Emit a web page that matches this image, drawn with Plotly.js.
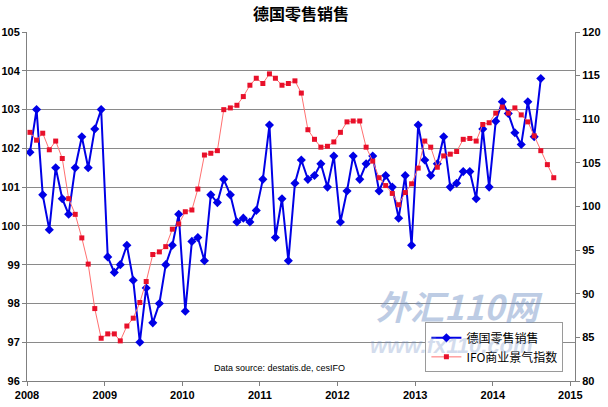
<!DOCTYPE html>
<html>
<head>
<meta charset="utf-8">
<script src="https://cdn.plot.ly/plotly-3.0.1.min.js"></script>
<style>html,body{margin:0;padding:0;background:#fff}#chart{width:608px;height:407px}</style>
</head>
<body>
<div id="chart"></div>
<script>
// Monthly series, starting January 2008 (points sit mid-month)
var startYear = 2008;
var retailSales = [101.9,103.0,100.8,99.9,101.5,100.7,100.3,101.5,102.3,101.5,102.5,103.0,
  99.2,98.8,99.0,99.5,98.6,97.0,98.4,97.5,98.0,99.0,99.5,100.3,
  97.8,99.6,99.7,99.1,100.8,100.6,101.2,100.8,100.1,100.2,100.1,100.4,
  101.2,102.6,99.7,100.7,99.1,101.1,101.7,101.2,101.3,101.6,101.0,101.8,
  100.1,100.9,101.8,101.2,101.6,101.8,100.9,101.3,101.0,100.2,101.3,99.5,
  102.6,101.7,101.3,101.6,102.3,101.0,101.1,101.4,101.4,100.7,102.5,101.0,
  102.7,103.2,102.9,102.4,102.1,103.2,102.3,103.8];
var ifoIndex = [108.5,107.6,108.4,106.5,107.5,105.5,100.9,99.1,96.4,93.4,88.3,84.9,
  85.4,85.4,84.6,86.3,87.2,89.0,91.4,94.5,94.8,95.4,97.4,98.0,
  99.4,99.6,102.0,105.9,106.1,106.4,111.1,111.3,111.6,112.6,113.9,114.7,
  114.1,115.2,114.7,113.9,114.1,114.4,113.0,108.8,107.7,106.8,106.9,107.4,
  108.5,109.7,109.8,109.8,106.8,105.2,103.3,102.4,101.5,100.2,101.6,102.6,
  104.4,107.5,106.8,104.5,105.8,106.0,106.3,107.7,107.8,107.5,109.4,109.6,
  110.7,111.4,110.7,111.3,110.5,109.7,108.1,106.4,104.8,103.3];
var seriesNames = ['德国零售销售', 'IFO商业景气指数'];
var titleText = '德国零售销售';
var sourceText = 'Data source: destatis.de, cesIFO';

function monthDates(n) {
  var out = [];
  for (var i = 0; i < n; i++) {
    var y = startYear + Math.floor(i / 12);
    var m = (i % 12) + 1;
    out.push(y + '-' + (m < 10 ? '0' + m : m) + '-15');
  }
  return out;
}

var traces = [
  {
    x: monthDates(retailSales.length), y: retailSales, name: seriesNames[0],
    type: 'scatter', mode: 'lines+markers', yaxis: 'y',
    line: {color: '#0000e6', width: 2},
    marker: {symbol: 'diamond', size: 7, color: '#0000e6'}
  },
  {
    x: monthDates(ifoIndex.length), y: ifoIndex, name: seriesNames[1],
    type: 'scatter', mode: 'lines+markers', yaxis: 'y2',
    line: {color: '#ff7070', width: 1},
    marker: {symbol: 'square', size: 5, color: '#e8102a'}
  }
];

var tickFont = {family: 'Liberation Sans, Arial, sans-serif', size: 11, color: '#000', weight: 'bold'};

var layout = {
  width: 608, height: 407,
  margin: {l: 27, r: 33, t: 32, b: 26, pad: 0},
  paper_bgcolor: '#fff', plot_bgcolor: '#fff',
  showlegend: true,
  title: {text: '<b>' + titleText + '</b>', x: 313, xref: 'paper', xanchor: 'center', y: 0.965, yanchor: 'middle',
    font: {family: 'Noto Sans CJK SC, sans-serif', size: 16, color: '#000'}},
  xaxis: {
    type: 'date', range: ['2008-01-01', '2015-01-23'],
    dtick: 'M12', tick0: '2008-01-01', tickformat: '%Y',
    showgrid: false, zeroline: false,
    showline: true, linecolor: '#808080', linewidth: 1,
    ticks: 'outside', ticklen: 4, tickcolor: '#808080',
    tickfont: tickFont
  },
  yaxis: {
    range: [96, 105], dtick: 1, tick0: 96,
    showgrid: true, gridcolor: '#8a8a8a', gridwidth: 1, zeroline: false,
    showline: true, linecolor: '#808080', linewidth: 1,
    ticks: 'outside', ticklen: 4, tickcolor: '#808080',
    tickfont: tickFont
  },
  yaxis2: {
    range: [80, 120], dtick: 5, tick0: 80,
    overlaying: 'y', side: 'right',
    showgrid: false, zeroline: false,
    showline: true, linecolor: '#808080', linewidth: 1,
    ticks: 'outside', ticklen: 4, tickcolor: '#808080',
    tickfont: tickFont
  },
  legend: {
    x: 0.727, y: 0.168, xanchor: 'left', yanchor: 'top',
    bgcolor: 'rgba(255,255,255,1)', bordercolor: '#9a9a9a', borderwidth: 1,
    font: {family: 'Noto Sans CJK SC, sans-serif', size: 12, color: '#000'},
    itemwidth: 30, tracegroupgap: 0
  },
  annotations: [
    {text: sourceText, xref: 'paper', yref: 'paper', x: 0.337, y: 0.038, xanchor: 'left', yanchor: 'middle',
      showarrow: false, font: {family: 'Liberation Sans, Arial, sans-serif', size: 9, color: '#000'}},
    {text: '<b><i>外汇110网</i></b>', xref: 'paper', yref: 'paper', x: 0.79, y: 0.215, xanchor: 'center', yanchor: 'middle',
      showarrow: false, opacity: 0.45, font: {family: 'Noto Sans CJK SC, sans-serif', size: 34, color: '#6f8fc4'}},
    {text: '<b><i>www.fx110.com</i></b>', xref: 'paper', yref: 'paper', x: 0.775, y: 0.103, xanchor: 'center', yanchor: 'middle',
      showarrow: false, opacity: 0.3, font: {family: 'Liberation Sans, Arial, sans-serif', size: 22, color: '#6f8fc4'}}
  ]
};

Plotly.newPlot('chart', traces, layout, {displayModeBar: false, staticPlot: true});
</script>
</body>
</html>
